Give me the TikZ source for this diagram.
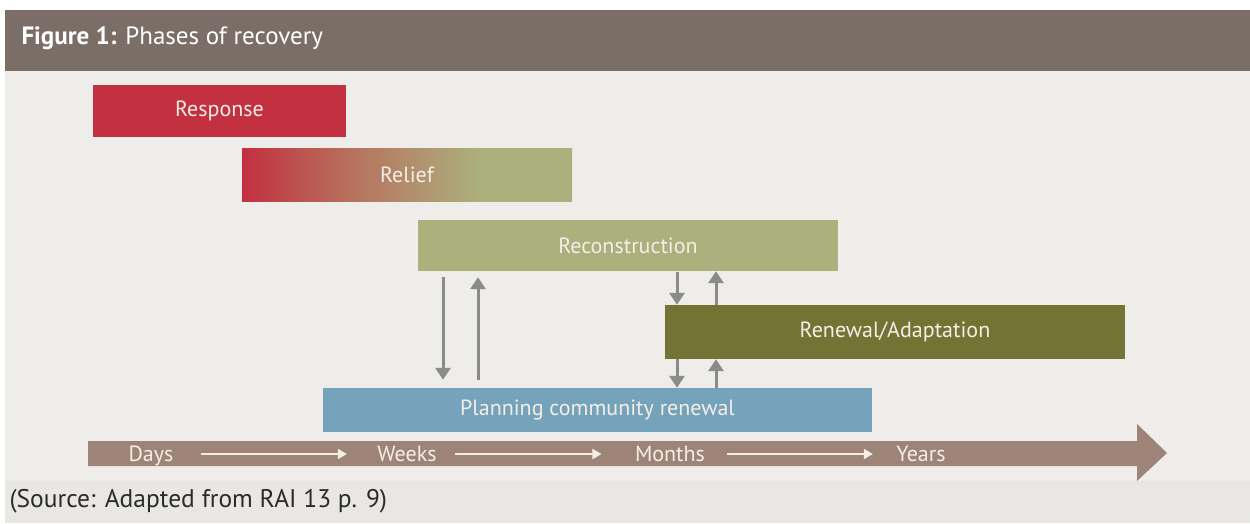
\documentclass[tikz,border=0pt]{standalone}
\usepackage{fontspec}
\setmainfont{PT Sans}
\usetikzlibrary{arrows.meta,calc}

\definecolor{headbrown}{HTML}{7B6E66}
\definecolor{paper}{HTML}{EFEDEA}
\definecolor{paperdark}{HTML}{E9E7E3}
\definecolor{respred}{HTML}{C3303F}
\definecolor{recongreen}{HTML}{ABB07C}
\definecolor{renewolive}{HTML}{737434}
\definecolor{planblue}{HTML}{74A3BB}
\definecolor{timebrown}{HTML}{9E8478}
\definecolor{cream}{HTML}{F5EEE6}
\definecolor{linkgray}{HTML}{8B8B8B}
\definecolor{srctext}{HTML}{2B2B2B}

\pgfdeclarehorizontalshading{reliefshading}{100bp}{color(0bp)=(respred); color(25bp)=(respred); color(32bp)=(respred!78!recongreen); color(44bp)=(respred!42!recongreen); color(61bp)=(recongreen); color(100bp)=(recongreen)}

\tikzset{
  phase/.style={inner sep=0pt, text=cream, font=\fontsize{22}{26}\selectfont},
  link/.style={line width=3pt, linkgray, -{Triangle[length=12pt,width=15pt]}},
  tick/.style={text=cream, font=\fontsize{22}{26}\selectfont, text height=17pt, text depth=3pt},
  pace/.style={line width=2pt, cream, -{Triangle[length=9pt,width=10pt]}}
}

\begin{document}
\begin{tikzpicture}[x=1pt,y=-1pt]
    \useasboundingbox (0,0) rectangle (1250,523);
    \fill[white] (0,0) rectangle (1250,523);
    \fill[paper] (5,71) rectangle (1250,523);
    \fill[paperdark] (5,481) rectangle (1250,523);
    \fill[headbrown] (5,10) rectangle (1250,71);
    \node[anchor=west, text=white, font=\fontsize{25}{29}\selectfont] (title) at (18,38) {\textbf{Figure 1:} Phases of recovery};

    % phases
    \node[phase, fill=respred, minimum width=253, minimum height=52] (resp) at (219.5,111) {Response};
    \node[phase, shading=reliefshading, minimum width=330, minimum height=53] (relief) at (407,174.5) {Relief};
    \node[phase, fill=recongreen, minimum width=420, minimum height=51] (recon) at (628,245.5) {Reconstruction};
    \node[phase, fill=renewolive, minimum width=460, minimum height=54] (renew) at (895,332) {Renewal/Adaptation};
    \node[phase, fill=planblue, minimum width=549, minimum height=44] (plan) at (597.5,410) {Planning community renewal};

    % links
    \coordinate (L1) at (443,0);
    \coordinate (L2) at (478,0);
    \coordinate (R1) at (677,0);
    \coordinate (R2) at (716,0);
    \draw[link, shorten <=6pt, shorten >=8pt] (recon.south -| L1) -- (plan.north -| L1);
    \draw[link, shorten <=8pt, shorten >=6pt] (plan.north -| L2) -- (recon.south -| L2);
    \draw[link, shorten <=1pt] (recon.south -| R1) -- (renew.north -| R1);
    \draw[link] (renew.north -| R2) -- (recon.south -| R2);
    \draw[link] (renew.south -| R1) -- (plan.north -| R1);
    \draw[link] (plan.north -| R2) -- (renew.south -| R2);

    % time line
    \fill[timebrown] (88,441) -- (1137,441) -- (1137,424) -- (1167,453) -- (1137,481) -- (1137,466) -- (88,466) -- cycle;
    \node[tick] (days) at (151,454) {Days};
    \node[tick] (weeks) at (407,454) {Weeks};
    \node[tick] (months) at (670,454) {Months};
    \node[tick] (years) at (921,454) {Years};
    \draw[pace, shorten <=24pt, shorten >=27pt] (days) -- (weeks);
    \draw[pace, shorten <=15pt, shorten >=30pt] (weeks) -- (months);
    \draw[pace, shorten <=18pt, shorten >=20pt] (months) -- (years);

    \node[anchor=west, text=srctext, font=\fontsize{25.5}{30}\selectfont] (source) at (6,501) {(Source: Adapted from RAI 13 p. 9)};
\end{tikzpicture}
\end{document}
